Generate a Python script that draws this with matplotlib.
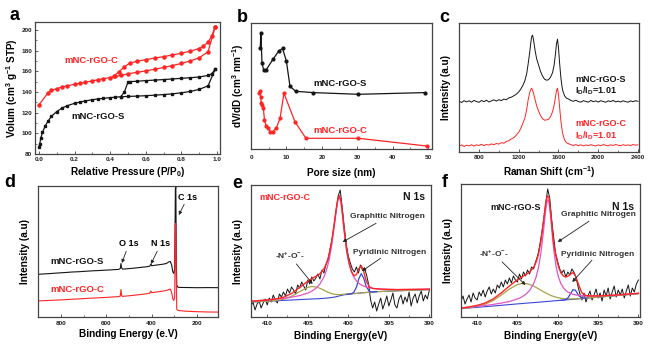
import numpy as np
import matplotlib
matplotlib.use('Agg')
import matplotlib.pyplot as plt
from matplotlib.ticker import MultipleLocator

plt.rcParams['font.family'] = ['Liberation Sans', 'DejaVu Sans']
plt.rcParams['font.weight'] = 'bold'
plt.rcParams['mathtext.fontset'] = 'custom'
plt.rcParams['mathtext.rm'] = 'Liberation Sans:bold'
plt.rcParams['mathtext.it'] = 'Liberation Sans:bold'
plt.rcParams['mathtext.bf'] = 'Liberation Sans:bold'
plt.rcParams['mathtext.default'] = 'rm'

RED = '#ff2525'
BLACK = '#151515'
MAGENTA = '#e055c8'
OLIVE = '#a9a24c'
BLUE = '#3a46d6'
FRAME = '#444444'

# ---- (a) N2 isotherms ----
c_ads_p = [0.0, 0.05, 0.07, 0.1, 0.13, 0.16, 0.2, 0.23, 0.26, 0.3, 0.33, 0.36, 0.4, 0.43,
           0.46, 0.5, 0.55, 0.6, 0.65, 0.7, 0.75, 0.8, 0.85, 0.9, 0.95, 0.99]
c_ads_v = [127.5, 139.0, 141.5, 143.3, 144.8, 146.0, 147.4, 148.3, 149.4, 150.8, 151.8, 152.8,
           154.0, 155.0, 156.0, 157.6, 159.0, 160.4, 162.0, 163.7, 165.6, 167.6, 170.0, 173.0,
           179.0, 203.0]
c_des_p = [0.99, 0.97, 0.95, 0.92, 0.9, 0.85, 0.8, 0.75, 0.7, 0.65, 0.6, 0.55, 0.51, 0.48, 0.45, 0.42]
c_des_v = [203.0, 194.0, 188.0, 184.0, 182.0, 179.5, 177.5, 175.8, 174.2, 172.8, 171.3, 169.7,
           167.8, 164.5, 159.5, 155.5]
s_ads_p = [0.0, 0.005, 0.01, 0.02, 0.035, 0.05, 0.07, 0.1, 0.13, 0.16, 0.2, 0.23, 0.26, 0.3,
           0.33, 0.36, 0.4, 0.43, 0.46, 0.5, 0.55, 0.6, 0.65, 0.7, 0.75, 0.8, 0.85, 0.9, 0.95, 0.99]
s_ads_v = [87.0, 90.0, 95.0, 101.0, 107.0, 111.5, 116.5, 121.0, 124.5, 126.8, 129.0, 130.2,
           131.3, 132.5, 133.2, 133.8, 134.5, 135.0, 135.4, 135.7, 136.0, 136.4, 136.9, 137.5,
           138.2, 139.2, 140.5, 142.5, 146.0, 162.0]
s_des_p = [0.99, 0.97, 0.95, 0.9, 0.85, 0.8, 0.75, 0.7, 0.65, 0.6, 0.55, 0.51, 0.5, 0.48, 0.46]
s_des_v = [162.0, 157.5, 156.0, 154.5, 153.8, 153.2, 152.6, 152.0, 151.5, 151.0, 150.4, 150.0,
           149.5, 140.0, 135.4]

# ---- (b) pore size distribution (arb. units) ----
psd_s_d = [2.6, 2.8, 3.1, 3.6, 4.2, 6.2, 7.8, 8.9, 10.0, 11.0, 12.6, 17.6, 30.3, 49.2]
psd_s_v = [100, 115, 85, 78, 78, 89, 97, 100, 87, 62, 57, 55.7, 54, 55.7]
psd_c_d = [2.3, 2.5, 2.7, 2.9, 3.1, 3.5, 3.8, 4.3, 4.9, 5.4, 6.1, 7.1, 8.2, 9.3, 12.4, 15.5, 30.3, 49.6]
psd_c_v = [55.7, 57.3, 51.7, 45, 43.3, 40, 28.3, 22.3, 20, 16.7, 16.7, 20, 30, 55, 26.7, 10, 10, 2.3]

# ---- (c) Raman ----
raman_x = [600, 625, 650, 675, 700, 725, 750, 775, 800, 825, 850, 875, 900, 925, 950, 975, 1000,
           1025, 1050, 1075, 1100, 1125, 1150, 1175, 1200,
           1220, 1240, 1260, 1280, 1295, 1310, 1320, 1330, 1340, 1350,
           1365, 1380, 1400, 1420, 1440, 1460, 1480, 1500, 1520, 1540,
           1555, 1570, 1580, 1590, 1600, 1610, 1625, 1640, 1660, 1680, 1700,
           1725, 1750, 1775, 1800, 1825, 1850, 1875, 1900, 1925, 1950, 1975, 2000,
           2025, 2050, 2075, 2100, 2125, 2150, 2175, 2200, 2225, 2250, 2275, 2300, 2325, 2350, 2375, 2400]
raman_s = [50.5, 49.2, 51.0, 49.8, 50.9, 49.5, 51.3, 50.2, 49.4, 51.2, 50.0, 51.5, 49.7, 50.8,
           51.9, 50.6, 52.0, 51.1, 52.6, 52.0, 53.8, 54.5, 55.9, 57.4, 59.8,
           62.5, 66.0, 70.5, 78.0, 88.0, 99.0, 108.0, 115.0, 116.5, 111.0,
           101.0, 93.0, 86.5, 80.0, 75.5, 72.5, 71.5, 72.0, 74.5, 79.0,
           86.0, 98.0, 108.0, 112.5, 104.0, 90.0, 73.0, 62.0, 56.0, 53.5, 52.8,
           51.2, 50.4, 51.5, 50.1, 49.6, 51.0, 50.3, 49.5, 51.2, 50.0, 50.8, 49.6,
           51.0, 50.2, 49.4, 50.9, 50.1, 51.3, 49.8, 50.6, 49.7, 50.9, 50.1, 49.5, 50.8, 50.0, 51.0, 50.4]
raman_c = [5.5, 6.8, 5.2, 6.5, 5.9, 7.0, 5.6, 6.9, 6.2, 7.4, 6.0, 7.2, 6.6, 7.8, 7.0, 8.2, 7.6,
           9.0, 8.5, 10.2, 11.0, 12.8, 14.0, 16.5, 19.5,
           23.0, 28.0, 33.0, 42.0, 52.0, 59.0, 62.0, 63.5, 61.0, 58.0,
           52.0, 46.0, 40.5, 36.0, 33.0, 31.5, 31.8, 32.5, 35.0, 40.0,
           46.0, 55.0, 61.0, 63.5, 57.0, 46.0, 30.0, 19.0, 12.0, 9.0, 8.0,
           7.0, 6.2, 7.1, 6.0, 6.9, 5.8, 6.7, 6.1, 7.0, 6.3, 5.7, 6.8,
           6.0, 7.1, 6.4, 5.9, 6.9, 6.2, 7.2, 6.5, 6.0, 7.0, 6.3, 6.8, 6.1, 7.2, 6.5, 6.9]

# ---- (d) XPS survey ----
survey_be = [905, 880, 850, 820, 800, 780, 750, 720, 700, 680, 650, 620, 600, 580, 560,
             545, 538, 535, 532, 528, 520, 500, 480, 460, 440, 420, 408, 403, 399, 390,
             370, 350, 335, 325, 318, 312, 306, 302, 298, 295, 293, 291, 289, 285, 280,
             250, 200, 150, 100]
survey_s = [42.6, 43.0, 43.4, 43.9, 44.2, 44.5, 45.0, 45.3, 45.6, 45.9, 46.3, 46.6, 46.9, 47.1, 47.4,
            47.6, 48.5, 53.5, 49.0, 47.9, 48.0, 48.4, 48.8, 49.3, 49.8, 50.3, 50.8, 53.0, 51.2, 51.6,
            52.2, 52.8, 53.5, 55.0, 55.6, 52.5, 45.0, 43.5, 48.0, 128.0, 130.0, 60.0, 32.0, 30.0, 29.6,
            29.5, 29.3, 29.4, 29.3]
survey_c = [16.0, 16.3, 16.6, 16.9, 17.1, 17.4, 17.8, 18.1, 18.4, 18.7, 19.0, 19.4, 19.6, 19.9, 20.2,
            20.4, 21.0, 27.5, 21.5, 20.6, 20.8, 21.2, 21.7, 22.2, 22.7, 23.3, 23.8, 26.0, 24.2, 24.6,
            25.3, 25.9, 26.5, 27.3, 28.0, 25.0, 18.0, 16.5, 20.0, 92.0, 93.5, 40.0, 8.0, 6.8, 6.5,
            5.8, 5.3, 5.0, 4.9]

# ---- (e, f) N 1s high resolution ----
n1s_be = np.linspace(412, 390, 89)
n1s_raw_c = [11, 15, 7, 13, 16, 9, 14, 18,
             12, 19, 15, 22, 17, 14, 23, 20,
             25, 21, 28, 24, 30, 27, 23, 32,
             29, 35, 31, 27, 37, 33, 40, 36,
             39, 43, 38, 47, 44, 53, 57, 68,
             78, 92, 106, 121, 127, 110, 90, 73,
             61, 54, 48, 45, 50, 44, 52, 47,
             49, 42, 33, 17, 9, 15, 6, 13,
             19, 8, 14, 21, 11, 17, 24, 12,
             9, 18, 22, 13, 20, 15, 25, 11,
             19, 23, 14, 21, 26, 16, 22, 18,
             27]
n1s_raw_s = [16, 21, 13, 18, 22, 15, 24, 19,
             17, 25, 21, 27, 20, 26, 30, 23,
             28, 24, 32, 29, 35, 30, 37, 33,
             39, 34, 41, 37, 35, 43, 38, 45,
             41, 47, 43, 50, 48, 55, 61, 71,
             83, 97, 113, 128, 119, 97, 79, 63,
             55, 48, 44, 47, 40, 45, 42, 48,
             45, 40, 31, 23, 17, 24, 15, 21,
             26, 17, 22, 28, 19, 24, 16, 27,
             21, 29, 18, 25, 31, 20, 27, 22,
             28, 19, 26, 32, 21, 29, 25, 33,
             37]

fit_be = [412, 411, 410, 409, 408, 407, 406, 405, 404.5, 404, 403.5, 403, 402.7, 402.4, 402.1,
          401.8, 401.5, 401.3, 401.1, 400.9, 400.7, 400.5, 400.2, 399.9, 399.6, 399.3, 399.0,
          398.7, 398.4, 398.1, 397.8, 397.4, 397.0, 396.5, 396, 395, 394, 393, 392, 391, 390]

c_base = [15.0, 15.4, 15.8, 16.2, 16.6, 17.0, 17.4, 17.8, 18.0, 18.2, 18.4, 18.7, 18.9, 19.1, 19.4,
          19.8, 20.3, 20.7, 21.1, 21.5, 21.9, 22.2, 22.6, 22.9, 23.2, 23.4, 23.6,
          23.8, 24.1, 24.3, 24.5, 24.8, 25.0, 25.3, 25.5, 25.9, 26.2, 26.5, 26.8, 27.1, 27.4]
c_nox = [15.0, 15.4, 15.8, 16.4, 17.7, 20.7, 25.4, 29.7, 30.5, 30.1, 28.7, 26.8, 25.5, 24.4, 23.5,
         22.8, 22.5, 22.4, 22.4, 22.5, 22.7, 22.8, 22.9, 23.1, 23.3, 23.5, 23.6,
         23.8, 24.1, 24.3, 24.5, 24.8, 25.0, 25.3, 25.5, 25.9, 26.2, 26.5, 26.8, 27.1, 27.4]
c_graph = [15.8, 16.4, 17.0, 17.8, 18.6, 19.8, 21.4, 23.9, 25.9, 28.7, 33.0, 40.2, 46.7, 55.9, 68.9,
           86.2, 105.6, 115.9, 120.1, 114.7, 101.1, 85.6, 66.2, 53.4, 45.1, 39.7, 36.1,
           33.7, 32.1, 30.9, 30.0, 29.2, 28.6, 28.2, 27.9, 27.6, 27.4, 27.5, 27.6, 27.7, 27.9]
c_env = [15.8, 16.4, 17.0, 18.0, 19.7, 23.5, 29.5, 35.8, 38.4, 40.6, 43.3, 48.3, 53.3, 61.2, 73.0,
         89.2, 107.8, 117.6, 121.4, 115.7, 101.9, 86.2, 66.5, 53.6, 45.2, 41.3, 42.3,
         48.2, 51.3, 45.4, 36.2, 30.0, 28.6, 28.2, 27.9, 27.6, 27.4, 27.5, 27.6, 27.7, 27.9]
c_pyr_be = [400.2, 399.9, 399.6, 399.3, 399.0, 398.7, 398.4, 398.1, 397.8, 397.4, 397.0, 396.5]
c_pyr = [22.6, 22.9, 23.3, 24.9, 29.8, 38.3, 43.3, 38.8, 30.7, 25.6, 25.0, 25.3]

s_base = [8.3, 9.0, 9.7, 10.3, 11.0, 11.7, 12.4, 13.1, 13.4, 13.8, 14.1, 14.4, 14.6, 14.8, 15.0,
          15.2, 15.4, 15.6, 15.7, 15.8, 16.0, 16.1, 16.3, 16.5, 16.7, 16.9, 17.1,
          17.3, 17.5, 17.7, 17.9, 18.2, 18.5, 18.8, 19.2, 19.8, 20.5, 21.2, 21.9, 22.6, 23.3]
s_nox = [8.4, 9.3, 10.6, 12.8, 16.5, 21.9, 27.9, 32.4, 33.4, 33.5, 32.6, 30.9, 29.6, 28.2, 26.8,
         25.4, 24.1, 23.3, 22.5, 21.7, 21.1, 20.5, 19.8, 19.2, 18.7, 18.4, 18.2,
         18.1, 18.1, 18.1, 18.2, 18.35, 18.5, 18.8, 19.2, 19.8, 20.5, 21.2, 21.9, 22.6, 23.3]
s_graph = [8.9, 9.8, 10.7, 11.5, 12.6, 13.9, 15.5, 18.0, 19.8, 22.5, 26.4, 33.1, 39.6, 49.1, 63.4,
           83.8, 106.7, 116.9, 116.3, 102.5, 84.0, 67.5, 50.1, 39.6, 33.2, 29.2, 26.5,
           24.8, 23.5, 22.7, 22.1, 21.6, 21.3, 21.0, 21.0, 21.1, 21.5, 21.9, 22.5, 23.1, 23.7]
s_env = [9.0, 10.1, 11.6, 14.0, 18.1, 24.1, 31.0, 37.3, 39.8, 42.2, 44.9, 49.6, 54.6, 62.5, 75.2,
         94.0, 113.5, 121.0, 120.0, 106.0, 89.0, 73.0, 60.0, 50.0, 44.0, 41.0, 40.0,
         41.0, 43.0, 44.5, 41.0, 32.0, 24.0, 21.5, 21.0, 21.1, 21.5, 21.9, 22.5, 23.1, 23.7]
s_pyr_be = [399.6, 399.3, 399.0, 398.7, 398.4, 398.1, 397.8, 397.4, 397.0, 396.5]
s_pyr = [16.7, 16.9, 17.5, 19.5, 23.6, 27.4, 26.7, 21.4, 18.9, 18.8]

# ---------------------------------------------------------------
W, H = 656, 349
fig = plt.figure(figsize=(W / 100, H / 100), dpi=100)


def add_panel(box):
    l, t, r, b = box
    ax = fig.add_axes([l / W, 1 - b / H, (r - l) / W, (b - t) / H])
    for sp in ax.spines.values():
        sp.set_color(FRAME)
        sp.set_linewidth(0.9)
    ax.tick_params(direction='in', length=2, width=0.6, labelsize=4.6, pad=2.2,
                   colors=FRAME, labelcolor='#222222')
    ax.tick_params(which='minor', direction='in', length=1.2, width=0.5, colors=FRAME)
    ax.tick_params(top=False, right=False, which='both')
    return ax


def place_labels(ax, box, xlab, ylab, xlab_y, ylab_x, size=7.2):
    l, t, r, b = box
    ax.set_xlabel(xlab, fontsize=size, fontweight='bold')
    ax.set_ylabel(ylab, fontsize=size, fontweight='bold')
    ax.xaxis.set_label_coords(0.5, (b - xlab_y) / (b - t))
    ax.yaxis.set_label_coords((ylab_x - l) / (r - l), 0.5)
    ax.xaxis.label.set_va('center')
    ax.yaxis.label.set_va('center')


def letter(px, py, s):
    fig.text(px / W, 1 - py / H, s, fontsize=13, fontweight='bold', ha='center', va='center')


arrow_kw = dict(arrowstyle='-|>', lw=0.6, color='#222222', mutation_scale=5, shrinkA=0, shrinkB=0)

# (a)
box_a = (35, 22, 220, 154)
ax = add_panel(box_a)
ax.plot(c_ads_p, c_ads_v, '-o', color=RED, lw=0.9, ms=2.2)
ax.plot(c_des_p, c_des_v, '-o', color=RED, lw=0.9, ms=2.2)
ax.plot(s_ads_p, s_ads_v, '-s', color=BLACK, lw=0.9, ms=2.0)
ax.plot(s_des_p, s_des_v, '-s', color=BLACK, lw=0.9, ms=2.0)
ax.set_xlim(-0.022, 1.017)
ax.set_ylim(80, 207.7)
ax.xaxis.set_major_locator(MultipleLocator(0.2))
ax.xaxis.set_minor_locator(MultipleLocator(0.1))
ax.yaxis.set_major_locator(MultipleLocator(20))
ax.yaxis.set_minor_locator(MultipleLocator(10))
ax.xaxis.set_major_formatter(plt.FuncFormatter(lambda v, p: f'{v:.1f}'))
ax.text(0.145, 170, 'mNC-rGO-C', color=RED, fontsize=6.8, va='center')
ax.text(0.18, 116, 'mNC-rGO-S', color=BLACK, fontsize=6.8, va='center')
place_labels(ax, box_a, 'Relative Pressure (P/P$_0$)', 'Volum (cm$^3$ g$^{-1}$ STP)', 172, 12)
letter(14, 16, 'a')

# (b)
box_b = (251, 23, 432, 149)
ax = add_panel(box_b)
ax.plot(psd_s_d, psd_s_v, '-o', color=BLACK, lw=0.9, ms=2.0)
ax.plot(psd_c_d, psd_c_v, '-o', color=RED, lw=0.9, ms=2.0)
ax.set_xlim(0, 51.1)
ax.set_ylim(-0.7, 125.3)
ax.set_yticks([])
ax.xaxis.set_major_locator(MultipleLocator(10))
ax.xaxis.set_minor_locator(MultipleLocator(5))
ax.tick_params(axis='x', pad=4.5)
ax.text(17.5, 65, 'mNC-rGO-S', color=BLACK, fontsize=6.8, va='center')
ax.text(17.5, 18, 'mNC-rGO-C', color=RED, fontsize=6.8, va='center')
place_labels(ax, box_b, 'Pore size (nm)', 'dV/dD (cm$^3$ nm$^{-1}$)', 173, 238)
letter(242, 18, 'b')

# (c)
box_c = (459, 23, 639, 152)
ax = add_panel(box_c)
ax.plot(raman_x, raman_s, color=BLACK, lw=0.7)
ax.plot(raman_x, raman_c, color=RED, lw=0.7)
ax.set_xlim(599, 2410)
ax.set_ylim(-0.3, 128.7)
ax.set_yticks([])
ax.xaxis.set_major_locator(MultipleLocator(400))
ax.xaxis.set_minor_locator(MultipleLocator(200))
ax.set_xticks([800, 1200, 1600, 2000, 2400])
ax.text(1766, 72.7, 'mNC-rGO-S', color=BLACK, fontsize=6.5, va='center')
ax.text(1766, 60.7, 'I$_D$/I$_D$=1.01', color=BLACK, fontsize=6.5, va='center')
ax.text(1766, 27.7, 'mNC-rGO-C', color=RED, fontsize=6.5, va='center')
ax.text(1766, 15.7, 'I$_D$/I$_D$=1.01', color=RED, fontsize=6.5, va='center')
place_labels(ax, box_c, 'Raman Shift (cm$^{-1}$)', 'Intensity (a.u)', 172, 446)
letter(444, 18, 'c')

# (d)
box_d = (38, 186, 218, 317)
ax = add_panel(box_d)
ax.plot(survey_be, survey_s, color=BLACK, lw=0.8)
ax.plot(survey_be, survey_c, color=RED, lw=0.8)
ax.set_xlim(901, 107)
ax.set_ylim(0, 131)
ax.set_yticks([])
ax.set_xticks([800, 600, 400, 200])
ax.xaxis.set_minor_locator(MultipleLocator(100))
ax.tick_params(axis='x', pad=3)
ax.text(848, 56, 'mNC-rGO-S', color=BLACK, fontsize=6.8, va='center')
ax.text(848, 28, 'mNC-rGO-C', color=RED, fontsize=6.8, va='center')
ax.annotate('O 1s', xy=(531, 54), xytext=(500, 73), fontsize=6.5, ha='center', va='center',
            arrowprops=arrow_kw)
ax.annotate('N 1s', xy=(403, 53), xytext=(359, 73), fontsize=6.5, ha='center', va='center',
            arrowprops=arrow_kw)
ax.annotate('C 1s', xy=(280, 102), xytext=(240, 120), fontsize=6.5, ha='center', va='center',
            arrowprops=arrow_kw)
place_labels(ax, box_d, 'Binding Energy (e.V)', 'Intensity (a.u)', 334, 25)
letter(10, 183, 'd')


def n1s_panel(box, raw, base, nox, graph, env, pyr_be, pyr, name, name_color, name_x, lab_y):
    ax = add_panel(box)
    ax.plot(n1s_be, raw, color=BLACK, lw=0.7)
    ax.plot(fit_be, base, color=BLUE, lw=0.8)
    ax.plot(fit_be, nox, color=OLIVE, lw=0.9)
    ax.plot(pyr_be, pyr, color=BLUE, lw=0.9)
    ax.plot(fit_be, graph, color=MAGENTA, lw=0.9)
    ax.plot(fit_be, env, color=RED, lw=1.0)
    ax.set_xlim(412, 389.8)
    ax.set_yticks([])
    ax.xaxis.set_major_locator(MultipleLocator(5))
    ax.xaxis.set_minor_locator(MultipleLocator(2.5))
    ax.tick_params(axis='x', pad=3)
    ax.text(name_x, lab_y, name, color=name_color, fontsize=6.5, va='center')
    ax.text(391.9, lab_y, 'N 1s', color=BLACK, fontsize=7.5, va='center', ha='center')
    return ax


# (e)
box_e = (251, 185, 431, 317)
ax = n1s_panel(box_e, n1s_raw_c, c_base, c_nox, c_graph, c_env, c_pyr_be, c_pyr,
               'mNC-rGO-C', RED, 411.0, 120)
ax.set_ylim(0, 132)
ax.annotate('Graphitic Nitrogen', xy=(400.7, 75), xytext=(399.8, 100), fontsize=6, va='center',
            color='#333333', arrowprops=arrow_kw)
ax.annotate('Pyridinic Nitrogen', xy=(398.3, 46), xytext=(399.4, 65), fontsize=6, va='center',
            color='#333333', arrowprops=arrow_kw)
ax.annotate('-N$^{+}$-O$^{-}$-', xy=(404.4, 33), xytext=(407.2, 61), fontsize=6, va='center',
            ha='center', color='#333333', arrowprops=arrow_kw)
place_labels(ax, box_e, 'Binding Energy(eV)', 'Intensity (a.u)', 336, 238)
letter(237, 184, 'e')

# (f)
box_f = (461, 184, 640, 317)
ax = n1s_panel(box_f, n1s_raw_s, s_base, s_nox, s_graph, s_env, s_pyr_be, s_pyr,
               'mNC-rGO-S', BLACK, 408.4, 110)
ax.set_ylim(0, 133)
ax.annotate('Graphitic Nitrogen', xy=(400.0, 75), xytext=(399.6, 102), fontsize=6, va='center',
            color='#333333', arrowprops=arrow_kw)
ax.annotate('Pyridinic Nitrogen', xy=(398.2, 35), xytext=(399.6, 63), fontsize=6, va='center',
            color='#333333', arrowprops=arrow_kw)
ax.annotate('-N$^{+}$-O$^{-}$-', xy=(404.0, 32), xytext=(407.9, 63), fontsize=6, va='center',
            ha='center', color='#333333', arrowprops=arrow_kw)
place_labels(ax, box_f, 'Binding Energy(eV)', 'Intensity (a.u)', 336, 448)
letter(445, 183, 'f')

fig.savefig('out.png', dpi=100)
